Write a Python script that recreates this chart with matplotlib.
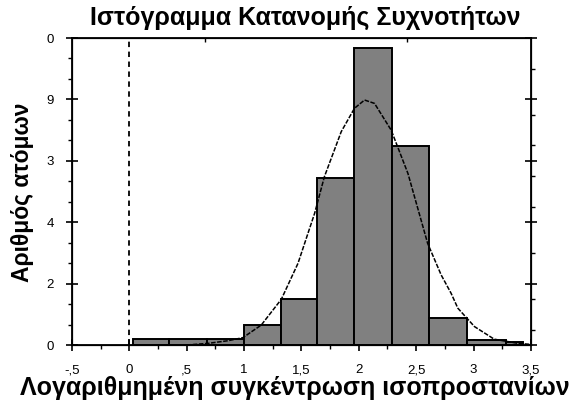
import matplotlib.pyplot as plt
from matplotlib.ticker import FixedLocator
import numpy as np

plt.rcParams['font.family'] = ['Liberation Sans', 'DejaVu Sans']

# histogram bins (edges) and bar heights
bin_edges = [0.03, 0.35, 0.68, 1.0, 1.32, 1.64, 1.96, 2.29, 2.61, 2.94, 3.28, 3.43]
counts = [0.2, 0.2, 0.2, 0.65, 1.5, 5.43, 9.67, 6.48, 0.87, 0.16, 0.1]

# fitted curve
curve_x = [0.5, 0.69, 0.86, 0.99, 1.15, 1.325, 1.47, 1.615, 1.70, 1.847, 1.962,
           2.05, 2.137, 2.282, 2.428, 2.60, 2.718, 2.805, 2.863, 3.008, 3.18, 3.385, 3.5]
curve_y = [0.0, 0.055, 0.14, 0.24, 0.65, 1.49, 2.66, 4.29, 5.48, 6.95, 7.71,
           7.98, 7.87, 7.0, 5.59, 3.31, 2.28, 1.68, 1.20, 0.60, 0.19, 0.055, 0.02]

xticks = [-0.5, 0, 0.5, 1, 1.5, 2, 2.5, 3, 3.5]
xtick_labels = ['-,5', '0', ',5', '1', '1,5', '2', '2,5', '3', '3,5']
yticks = [0, 2, 4, 6, 8, 10]
ytick_labels = ['0', '2', '4', '3', '9', '0']
right_minor = [0.5, 1.5, 3, 4.5, 5.5, 6.5, 7.5, 9]
top_ticks = [0.66, 2.42]

fig = plt.figure(figsize=(5.8, 4.07), dpi=100)
ax = fig.add_axes([0.124, 0.1523, 0.7914, 0.7543])

ax.bar(bin_edges[:-1], counts, width=np.diff(bin_edges), align='edge',
       color='#808080', edgecolor='black', linewidth=1.4, zorder=2)
ax.plot(curve_x, curve_y, color='black', lw=1.1, linestyle=(0, (3, 1)), zorder=3)
ax.axvline(0, color='black', lw=1.3, linestyle=(0, (3, 2.5)), zorder=1)

ax.set_xlim(-0.5, 3.5)
ax.set_ylim(0, 10)
ax.set_xticks(xticks)
ax.set_xticklabels(xtick_labels)
ax.set_yticks(yticks)
ax.set_yticklabels(ytick_labels)
ax.xaxis.set_minor_locator(FixedLocator(np.arange(-0.5, 3.51, 0.25)))
ax.yaxis.set_minor_locator(FixedLocator(np.arange(0, 10.01, 2 / 3)))
ax.tick_params(axis='both', which='major', direction='inout', length=8, width=1.2,
               labelsize=9.5)
ax.tick_params(axis='x', which='major', pad=10)
ax.tick_params(axis='y', which='major', pad=9)
ax.tick_params(axis='both', which='minor', direction='out', length=3, width=1.0)

for s in ax.spines.values():
    s.set_linewidth(1.3)

# right side ticks
axr = ax.twinx()
axr.set_ylim(0, 10)
axr.set_yticks(yticks)
axr.set_yticklabels([])
axr.yaxis.set_minor_locator(FixedLocator(right_minor))
axr.tick_params(which='major', direction='inout', length=8, width=1.2)
axr.tick_params(which='minor', direction='out', length=3, width=1.0)

# top ticks
axt = ax.twiny()
axt.set_xlim(-0.5, 3.5)
axt.set_xticks(top_ticks)
axt.set_xticklabels([])
axt.tick_params(direction='in', length=3, width=1.0)

fig.text(0.526, 0.955, 'Ιστόγραμμα Κατανομής Συχνοτήτων', ha='center', va='center',
         fontsize=18, fontweight='bold')
fig.text(0.508, 0.047, 'Λογαριθμημένη συγκέντρωση ισοπροστανίων', ha='center',
         va='center', fontsize=18, fontweight='bold')
fig.text(0.038, 0.528, 'Αριθμός ατόμων', ha='center', va='center', rotation=90,
         fontsize=16.5, fontweight='bold')

fig.savefig('out.png', dpi=100)
